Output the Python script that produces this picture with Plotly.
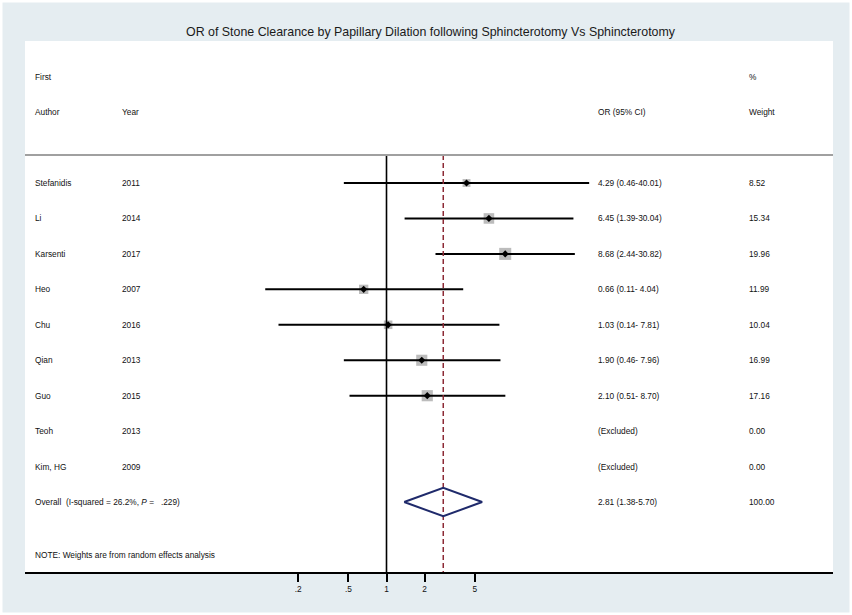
import math
import plotly.graph_objects as go

# ---------------- data ----------------
authors = ["Stefanidis", "Li", "Karsenti", "Heo", "Chu", "Qian", "Guo", "Teoh", "Kim, HG"]
years = ["2011", "2014", "2017", "2007", "2016", "2013", "2015", "2013", "2009"]
or_est = [4.29, 6.45, 8.68, 0.66, 1.03, 1.90, 2.10, None, None]
ci_low = [0.46, 1.39, 2.44, 0.11, 0.14, 0.46, 0.51, None, None]
ci_high = [40.01, 30.04, 30.82, 4.04, 7.81, 7.96, 8.70, None, None]
weights = [8.52, 15.34, 19.96, 11.99, 10.04, 16.99, 17.16, 0.00, 0.00]

overall_est = 2.81
overall_low = 1.38
overall_high = 5.70
overall_weight = 100.00
i_squared = "26.2%"
p_value = ".229"

tick_vals = [0.2, 0.5, 1, 2, 5]
tick_text = [".2", ".5", "1", "2", "5"]

title = "OR of Stone Clearance by Papillary Dilation following Sphincterotomy Vs Sphincterotomy"

# ---------------- geometry ----------------
W, H = 852, 615
ML, MR, MT, MB = 25, 19, 41, 43
PW = W - ML - MR
PH = H - MT - MB
row0_px = 183.0
row_px = 35.45
one_px = 386.5
decade_px = 126.5

def px_to_row(p):
    return (p - row0_px) / row_px

y_top = px_to_row(MT)
y_bot = px_to_row(H - MB)
x_lo = -(one_px - ML) / decade_px
x_hi = (W - MR - one_px) / decade_px

def xp(px):
    return (px - ML) / PW

def yp(py):
    return (H - MB - py) / PH

BG = "#E5EDF1"
FONT = "Liberation Sans, Arial, sans-serif"
FS = 8.3
TXT = "#111111"

fig = go.Figure()

n = len(authors)
rows = list(range(n))
overall_row = n
note_row = px_to_row(555)
header_line_row = px_to_row(155)

# squares
sq_x, sq_y, sq_s = [], [], []
for i in rows:
    if or_est[i] is not None:
        sq_x.append(or_est[i]); sq_y.append(i); sq_s.append(2.7 * math.sqrt(weights[i]))
fig.add_trace(go.Scatter(x=sq_x, y=sq_y, mode="markers",
                         marker=dict(symbol="square", size=sq_s, color="#A0A0A0", line=dict(width=0)),
                         hoverinfo="skip", showlegend=False))

# CI lines
lx, ly = [], []
for i in rows:
    if or_est[i] is not None:
        lx += [ci_low[i], ci_high[i], None]
        ly += [i, i, None]
fig.add_trace(go.Scatter(x=lx, y=ly, mode="lines", line=dict(color="black", width=2),
                         hoverinfo="skip", showlegend=False))

# point estimates
fig.add_trace(go.Scatter(x=sq_x, y=sq_y, mode="markers",
                         marker=dict(symbol="diamond", size=5.5, color="black"),
                         hoverinfo="skip", showlegend=False))

# null line and overall dashed line
fig.add_trace(go.Scatter(x=[1, 1], y=[header_line_row, y_bot], mode="lines",
                         line=dict(color="black", width=1.6), hoverinfo="skip", showlegend=False))
fig.add_trace(go.Scatter(x=[overall_est, overall_est], y=[header_line_row, y_bot], mode="lines",
                         line=dict(color="#8C2A35", width=1.5, dash="5px,3px"),
                         hoverinfo="skip", showlegend=False))

# overall diamond
hh = 0.4
fig.add_trace(go.Scatter(x=[overall_low, overall_est, overall_high, overall_est, overall_low],
                         y=[overall_row, overall_row - hh, overall_row, overall_row + hh, overall_row],
                         mode="lines", line=dict(color="#1F2A6B", width=2),
                         hoverinfo="skip", showlegend=False))

# ---------------- text ----------------
col_author, col_year, col_or, col_wt = 33, 120, 596, 747
ann = []

def add_text(px, row, text):
    ann.append(dict(x=xp(px), xref="paper", y=row, yref="y", text=text, showarrow=False,
                    xanchor="left", yanchor="middle", font=dict(family=FONT, size=FS, color=TXT)))

add_text(col_author, -3, "First")
add_text(col_wt, -3, "%")
add_text(col_author, -2, "Author")
add_text(col_year, -2, "Year")
add_text(col_or, -2, "OR (95% CI)")
add_text(col_wt, -2, "Weight")

for i in rows:
    add_text(col_author, i, authors[i])
    add_text(col_year, i, years[i])
    if or_est[i] is not None:
        s = f"{or_est[i]:.2f} ({ci_low[i]:.2f}-{ci_high[i]:>5.2f})".replace("- ", "-&nbsp;")
    else:
        s = "(Excluded)"
    add_text(col_or, i, s)
    add_text(col_wt, i, f"{weights[i]:.2f}")

add_text(col_author, overall_row,
         f"Overall&nbsp;&nbsp;(I-squared = {i_squared}, <i>P</i> =&nbsp;&nbsp; {p_value})")
add_text(col_or, overall_row, f"{overall_est:.2f} ({overall_low:.2f}-{overall_high:.2f})")
add_text(col_wt, overall_row, f"{overall_weight:.2f}")
add_text(col_author, note_row, "NOTE: Weights are from random effects analysis")

ann.append(dict(x=xp(431), xref="paper", y=yp(32), yref="paper", text=title, showarrow=False,
                xanchor="center", yanchor="middle", font=dict(family=FONT, size=12.4, color="#1a1a1a")))

shapes = [
    dict(type="line", xref="paper", yref="y", x0=0, x1=1, y0=header_line_row, y1=header_line_row,
         line=dict(color="#A0A0A0", width=2)),
    dict(type="rect", xref="paper", yref="paper", x0=xp(0), x1=xp(W), y0=yp(H), y1=yp(0),
         line=dict(color="white", width=5), fillcolor="rgba(0,0,0,0)"),
]

fig.update_layout(
    width=W, height=H,
    margin=dict(l=ML, r=MR, t=MT, b=MB),
    paper_bgcolor=BG, plot_bgcolor="white",
    annotations=ann, shapes=shapes,
    xaxis=dict(type="log", range=[x_lo, x_hi], tickvals=tick_vals, ticktext=tick_text,
               showgrid=False, zeroline=False, showline=True, linecolor="black", linewidth=2,
               ticks="outside", ticklen=8, tickwidth=2, tickcolor="black",
               tickfont=dict(family=FONT, size=FS, color=TXT), fixedrange=True),
    yaxis=dict(range=[y_bot, y_top], showgrid=False, zeroline=False, showticklabels=False,
               showline=False, fixedrange=True),
    showlegend=False,
)

fig.write_html("out.html", config={"displayModeBar": False},
               post_script="document.body.style.margin='0px';document.body.style.padding='0px';")
